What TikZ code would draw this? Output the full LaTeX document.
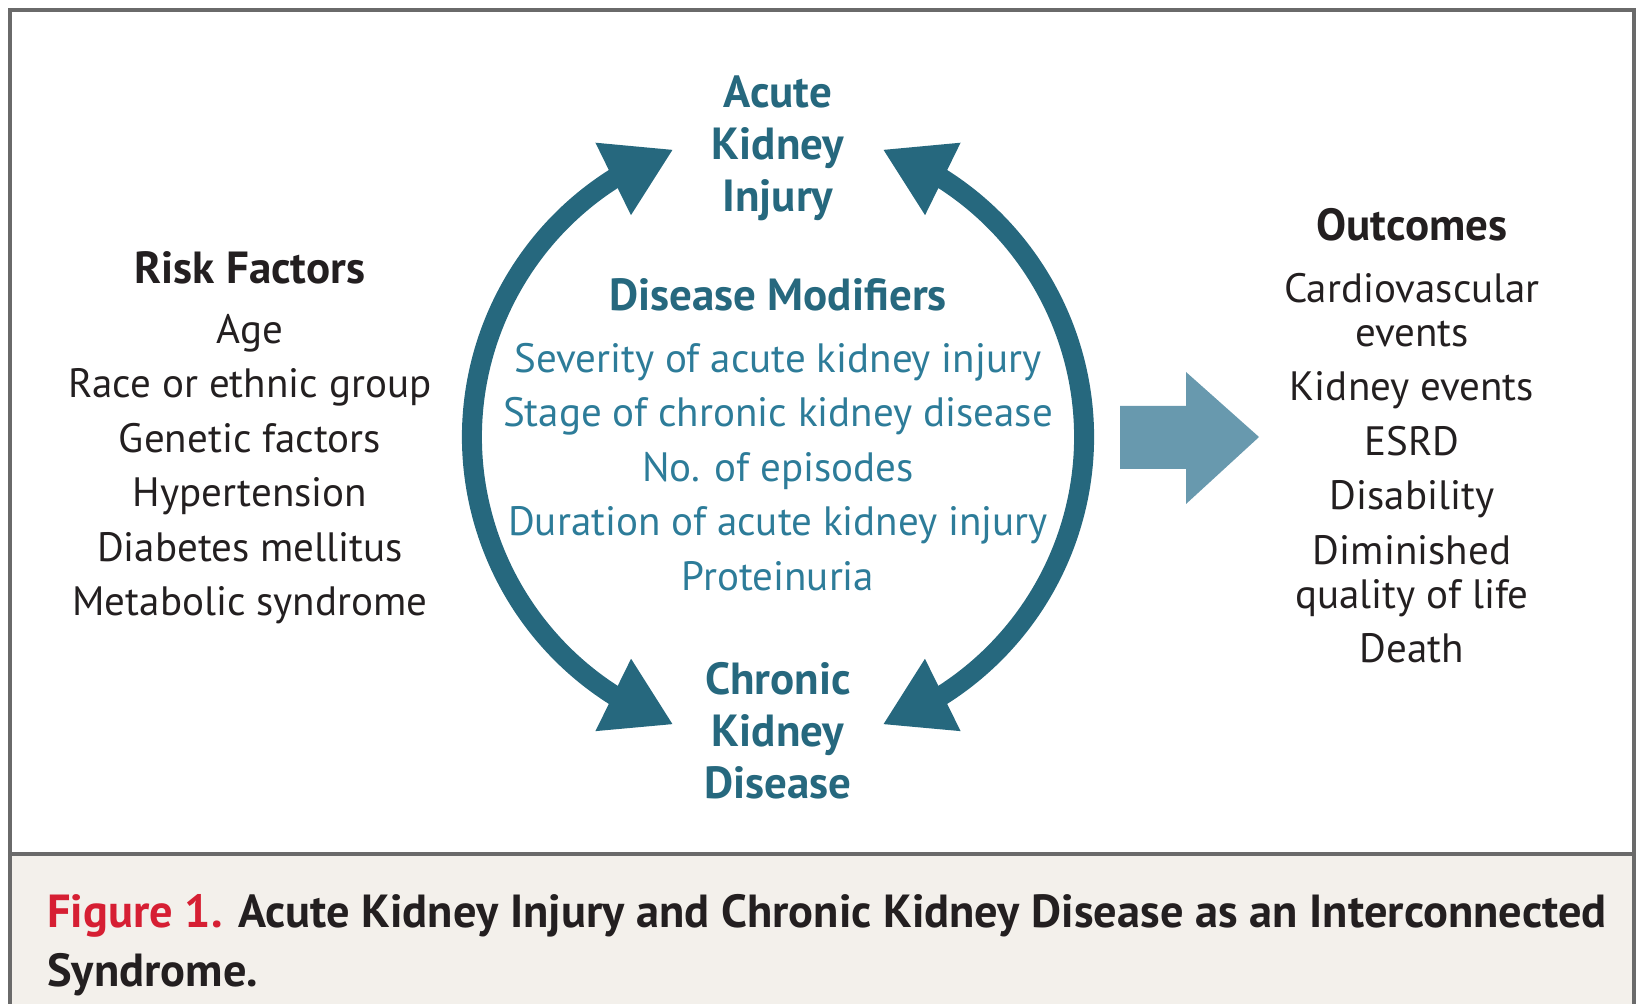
\documentclass[tikz,border=0pt]{standalone}
\usepackage{fontspec}
\setmainfont{PT Sans}
\usetikzlibrary{arrows.meta,bending}

\definecolor{akidark}{HTML}{26687E}
\definecolor{akimid}{HTML}{2D7C99}
\definecolor{akiarrow}{HTML}{6899AE}
\definecolor{akiink}{HTML}{231F20}
\definecolor{akired}{HTML}{D61F33}
\definecolor{akiframe}{HTML}{6A6A6A}
\definecolor{akicapbg}{HTML}{F3F0EB}

\begin{document}
\begin{tikzpicture}[x=0.5pt,y=-0.5pt,
  head/.style={font=\bfseries\fontsize{22.5}{26}\selectfont, align=center, inner sep=0pt},
  listtext/.style={font=\fontsize{20.5}{22}\selectfont, align=center, inner sep=0pt},
  cycle/.style={draw=akidark, line width=10pt,
    {Triangle[length=33.5pt,width=37.8pt,flex]}-{Triangle[length=33.5pt,width=37.8pt,flex]}}]

\useasboundingbox (0,0) rectangle (1636,1004);

% frame and caption
\fill[akicapbg] (9,854) rectangle (1634,1004);
\draw[akiframe, line width=2pt] (9.5,1010) -- (9.5,10.5) -- (1633.5,10.5) -- (1633.5,1010);
\draw[akiframe, line width=2pt] (9.5,854) -- (1633.5,854);
\node[anchor=base west, inner sep=0pt, align=left, font=\bfseries\fontsize{23.2}{29.5}\selectfont, text=akiink] (caption) at (47,986)
  {\textcolor{akired}{Figure 1.} Acute Kidney Injury and Chronic Kidney Disease as an Interconnected\\Syndrome.};

% risk factors
\node[head, text=akiink] (riskhead) at (250,268) {Risk Factors};
\node[listtext, text=akiink] (risk) at (250,469)
  {Age\\[5.25pt]Race or ethnic group\\[5.25pt]Genetic factors\\[5.25pt]Hypertension\\[5.25pt]Diabetes mellitus\\[5.25pt]Metabolic syndrome};

% the cycle
\node[head, text=akidark] (aki) at (778,148) {Acute\\Kidney\\Injury};
\node[head, text=akidark] (ckd) at (778,731) {Chronic\\Kidney\\Disease};
\node[head, text=akidark] (modhead) at (778,295) {Disease Modifiers};
\node[listtext, text=akimid] (mods) at (778,467)
  {Severity of acute kidney injury\\[5.25pt]Stage of chronic kidney disease\\[5.25pt]No. of episodes\\[5.25pt]Duration of acute kidney injury\\[5.25pt]Proteinuria};

\coordinate (hub) at (778,437);
\draw[cycle] (hub) ++(250:306) arc[start angle=250, end angle=110, radius=306];
\draw[cycle] (hub) ++(-70:306) arc[start angle=-70, end angle=70, radius=306];

% block arrow
\fill[akiarrow] (1120,406) -- (1186,406) -- (1186,372) -- (1259,437) -- (1186,504) -- (1186,469) -- (1120,469) -- cycle;

% outcomes
\node[head, text=akiink] (outhead) at (1412,225) {Outcomes};
\node[listtext, text=akiink] (outs) at (1412,468)
  {Cardiovascular\\events\\[5.25pt]Kidney events\\[5.25pt]ESRD\\[5.25pt]Disability\\[5.25pt]Diminished\\quality of life\\[5.25pt]Death};

\end{tikzpicture}
\end{document}
